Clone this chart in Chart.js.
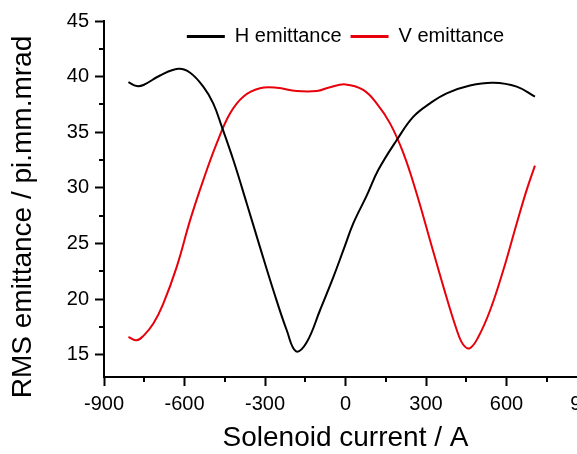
<!DOCTYPE html>
<html>
<head>
<meta charset="utf-8">
<script src="https://cdn.jsdelivr.net/npm/chart.js@4.4.1/dist/chart.umd.min.js"></script>
<style>
  html, body { margin: 0; padding: 0; background: #fff; overflow: hidden; }
  #wrap { width: 577px; height: 454px; overflow: hidden; }
</style>
</head>
<body>
<div id="wrap"><canvas id="grafico" width="620" height="454"></canvas></div>
<script>
// Solenoid current (A) and emittance (pi.mm.mrad)
const hCurrent = [-809, -778, -753, -691, -623, -579, -530, -493, -461, -418, -368, -319, -269, -219, -184, -145, -95, -45, -8, 29, 79, 122, 191, 253, 315, 377, 464, 551, 638, 706];
const hEmit    = [39.5, 39.15, 39.25, 40.1, 40.7, 40.35, 39.1, 37.6, 35.5, 32.5, 28.6, 24.7, 20.8, 17.2, 15.3, 16.1, 19.0, 22.0, 24.4, 26.8, 29.3, 31.6, 34.3, 36.4, 37.6, 38.5, 39.2, 39.45, 39.1, 38.2];

const vCurrent = [-809, -778, -753, -716, -679, -629, -579, -530, -480, -430, -381, -319, -256, -182, -107, -58, 0, 66, 116, 166, 216, 265, 315, 365, 415, 439, 464, 495, 539, 588, 638, 675, 706];
const vEmit    = [16.6, 16.3, 16.7, 17.8, 19.6, 22.9, 27.1, 30.7, 34.0, 36.7, 38.2, 38.95, 39.0, 38.7, 38.7, 39.05, 39.3, 38.8, 37.6, 35.8, 33.1, 29.5, 25.3, 21.1, 17.2, 15.9, 15.6, 16.6, 19.0, 22.6, 26.8, 29.8, 32.0];

const xTicks = [-900, -600, -300, 0, 300, 600, 900];
const xMinor = [-750, -450, -150, 150, 450, 750];
const yTicks = [15, 20, 25, 30, 35, 40, 45];
const yMinor = [17.5, 22.5, 27.5, 32.5, 37.5, 42.5];

const fuente = "'Liberation Sans', Arial, Helvetica, sans-serif";

function puntos(xs, ys) {
  return xs.map((x, i) => ({ x: x, y: ys[i] }));
}

// minor ticks, half length, outside the axes
const ticksMenores = {
  id: 'ticksMenores',
  afterDraw(chart) {
    const ctx = chart.ctx;
    const xs = chart.scales.x, ys = chart.scales.y;
    ctx.save();
    ctx.strokeStyle = '#000';
    ctx.lineWidth = 2;
    ctx.beginPath();
    xMinor.forEach(v => {
      const px = Math.round(xs.getPixelForValue(v));
      ctx.moveTo(px, xs.top);
      ctx.lineTo(px, xs.top + 5);
    });
    yMinor.forEach(v => {
      const py = Math.round(ys.getPixelForValue(v));
      ctx.moveTo(ys.right, py);
      ctx.lineTo(ys.right - 5, py);
    });
    ctx.stroke();
    ctx.restore();
  }
};

// y title and legend drawn by hand (legend sits inside the plot)
const textos = {
  id: 'textos',
  afterDraw(chart) {
    const ctx = chart.ctx;
    const area = chart.chartArea;
    ctx.save();
    ctx.fillStyle = '#000';
    ctx.font = '28px ' + fuente;
    ctx.textAlign = 'center';
    ctx.textBaseline = 'middle';
    ctx.translate(23, 217);
    ctx.rotate(-Math.PI / 2);
    ctx.fillText('RMS emittance / pi.mm.mrad', 0, 0);
    ctx.restore();

    ctx.save();
    ctx.font = '20px ' + fuente;
    ctx.textBaseline = 'middle';
    const linea = 38, hueco = 10, sep = 9;
    const items = chart.data.datasets.map(d => ({
      texto: d.label, color: d.borderColor, ancho: ctx.measureText(d.label).width
    }));
    let total = 0;
    items.forEach((it, i) => { total += linea + hueco + it.ancho + (i ? sep : 0); });
    let x = (area.left + area.right) / 2 - total / 2;
    const y = 36.5;
    items.forEach(it => {
      ctx.strokeStyle = it.color;
      ctx.lineWidth = 3;
      ctx.beginPath();
      ctx.moveTo(x, y);
      ctx.lineTo(x + linea, y);
      ctx.stroke();
      ctx.fillStyle = '#000';
      ctx.fillText(it.texto, x + linea + hueco, y);
      x += linea + hueco + it.ancho + sep;
    });
    ctx.restore();
  }
};

const ctx = document.getElementById('grafico').getContext('2d');
new Chart(ctx, {
  type: 'line',
  data: {
    datasets: [{
      label: 'H emittance',
      data: puntos(hCurrent, hEmit),
      borderColor: '#000000',
      backgroundColor: '#000000',
      borderWidth: 2,
      pointRadius: 0,
      tension: 0.4,
      fill: false
    }, {
      label: 'V emittance',
      data: puntos(vCurrent, vEmit),
      borderColor: '#e8000b',
      backgroundColor: '#e8000b',
      borderWidth: 2,
      pointRadius: 0,
      tension: 0.4,
      fill: false
    }]
  },
  options: {
    responsive: false,
    animation: false,
    layout: { padding: { left: 0, right: 33, top: 21, bottom: 0 } },
    plugins: {
      legend: { display: false },
      tooltip: { enabled: false }
    },
    scales: {
      x: {
        type: 'linear',
        min: -900,
        max: 900,
        afterBuildTicks: s => { s.ticks = xTicks.map(v => ({ value: v })); },
        afterFit: s => { s.height = 77; },
        grid: { drawOnChartArea: false, drawTicks: true, tickLength: 9, tickWidth: 2, tickColor: '#000' },
        border: { display: true, color: '#000', width: 2 },
        ticks: { color: '#000', padding: 6, maxRotation: 0, font: { family: fuente, size: 20 } },
        title: {
          display: true,
          text: 'Solenoid current / A',
          color: '#000',
          padding: { top: 0, bottom: 2 },
          font: { family: fuente, size: 28, lineHeight: 1 }
        }
      },
      y: {
        min: 13,
        max: 45,
        afterBuildTicks: s => { s.ticks = yTicks.map(v => ({ value: v })); },
        afterFit: s => { s.width = 104; },
        grid: { drawOnChartArea: false, drawTicks: true, tickLength: 9, tickWidth: 2, tickColor: '#000' },
        border: { display: true, color: '#000', width: 2 },
        ticks: { color: '#000', padding: 6, font: { family: fuente, size: 20 } }
      }
    }
  },
  plugins: [ticksMenores, textos]
});
</script>
</body>
</html>
